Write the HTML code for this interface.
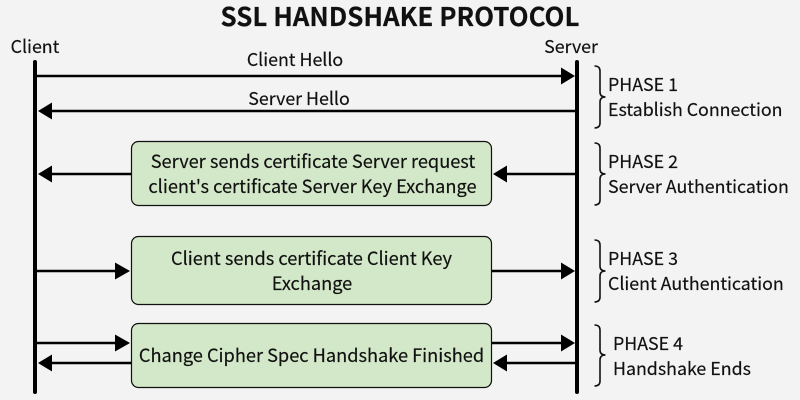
<!DOCTYPE html>
<html>
<head>
<meta charset="utf-8">
<style>
html,body{margin:0;padding:0;background:#f3f3f3;}
svg{display:block;}
text{font-family:"Noto Sans CJK JP","Liberation Sans",sans-serif;font-size:17.8px;fill:#111;stroke:#111;stroke-width:.18px;}
text.b{font-size:18.2px;}
</style>
</head>
<body>
<svg width="800" height="400" viewBox="0 0 800 400" xmlns="http://www.w3.org/2000/svg">
<rect width="800" height="400" fill="#f3f3f3"/>
<text x="400" y="26" text-anchor="middle" style="font-size:25.9px;font-weight:700">SSL HANDSHAKE PROTOCOL</text>
<text x="35" y="53" text-anchor="middle">Client</text>
<text x="571" y="53" text-anchor="middle">Server</text>
<text x="295" y="66" text-anchor="middle">Client Hello</text>
<text x="299" y="105" text-anchor="middle">Server Hello</text>

<g fill="#d3e8c8" stroke="#111" stroke-width="1.2">
<rect x="131.5" y="141.5" width="360" height="64" rx="7"/>
<rect x="131.5" y="236.5" width="360" height="68" rx="7"/>
<rect x="131.5" y="323.5" width="360" height="64" rx="7"/>
</g>
<text class="b" x="313" y="168" text-anchor="middle">Server sends certificate Server request</text>
<text class="b" x="312.5" y="193" text-anchor="middle">client's certificate Server Key Exchange</text>
<text class="b" x="311.5" y="265" text-anchor="middle">Client sends certificate Client Key</text>
<text class="b" x="312" y="290" text-anchor="middle">Exchange</text>
<text class="b" x="311.5" y="362" text-anchor="middle">Change Cipher Spec Handshake Finished</text>

<g stroke="#000" stroke-width="2.6" fill="none">
<line x1="36" y1="76" x2="563" y2="76"/>
<line x1="50" y1="111" x2="577" y2="111"/>
<line x1="50" y1="174" x2="131" y2="174"/>
<line x1="505" y1="174" x2="577" y2="174"/>
<line x1="36" y1="271" x2="118" y2="271"/>
<line x1="492" y1="271" x2="563" y2="271"/>
<line x1="36" y1="343" x2="118" y2="343"/>
<line x1="492" y1="343" x2="563" y2="343"/>
<line x1="50" y1="363" x2="131" y2="363"/>
<line x1="505" y1="363" x2="577" y2="363"/>
</g>
<g fill="#000">
<polygon points="575,76 561,67.5 561,84.5"/>
<polygon points="38,111 52,102.5 52,119.5"/>
<polygon points="38,174 52,165.5 52,182.5"/>
<polygon points="493,174 507,165.5 507,182.5"/>
<polygon points="130,271 115,262.5 115,279.5"/>
<polygon points="575,271 561,262.5 561,279.5"/>
<polygon points="130,343 115,334.5 115,351.5"/>
<polygon points="575,343 561,334.5 561,351.5"/>
<polygon points="38,363 52,354.5 52,371.5"/>
<polygon points="493,363 507,354.5 507,371.5"/>
</g>
<g stroke="#000" stroke-width="4" stroke-linecap="round">
<line x1="35" y1="62" x2="35" y2="392"/>
<line x1="577" y1="62" x2="577" y2="392"/>
</g>

<g stroke="#111" stroke-width="1.6" fill="none">
<path d="M594.5,66 Q600,66 600,71 V92 Q600,97 605.5,97 Q600,97 600,102 V123 Q600,128 594.5,128"/>
<path d="M594.5,143 Q600,143 600,148 V169 Q600,174 605.5,174 Q600,174 600,179 V200 Q600,205 594.5,205"/>
<path d="M594.5,240 Q600,240 600,245 V266 Q600,271 605.5,271 Q600,271 600,276 V297 Q600,302 594.5,302"/>
<path d="M594.5,325 Q600,325 600,330 V350 Q600,355 605.5,355 Q600,355 600,360 V381 Q600,386 594.5,386"/>
</g>

<text x="608" y="91">PHASE 1</text>
<text x="608" y="116">Establish Connection</text>
<text x="608" y="168">PHASE 2</text>
<text x="608" y="193">Server Authentication</text>
<text x="608" y="265">PHASE 3</text>
<text x="608" y="290">Client Authentication</text>
<text x="613" y="350">PHASE 4</text>
<text x="613" y="375">Handshake Ends</text>
</svg>
</body>
</html>
